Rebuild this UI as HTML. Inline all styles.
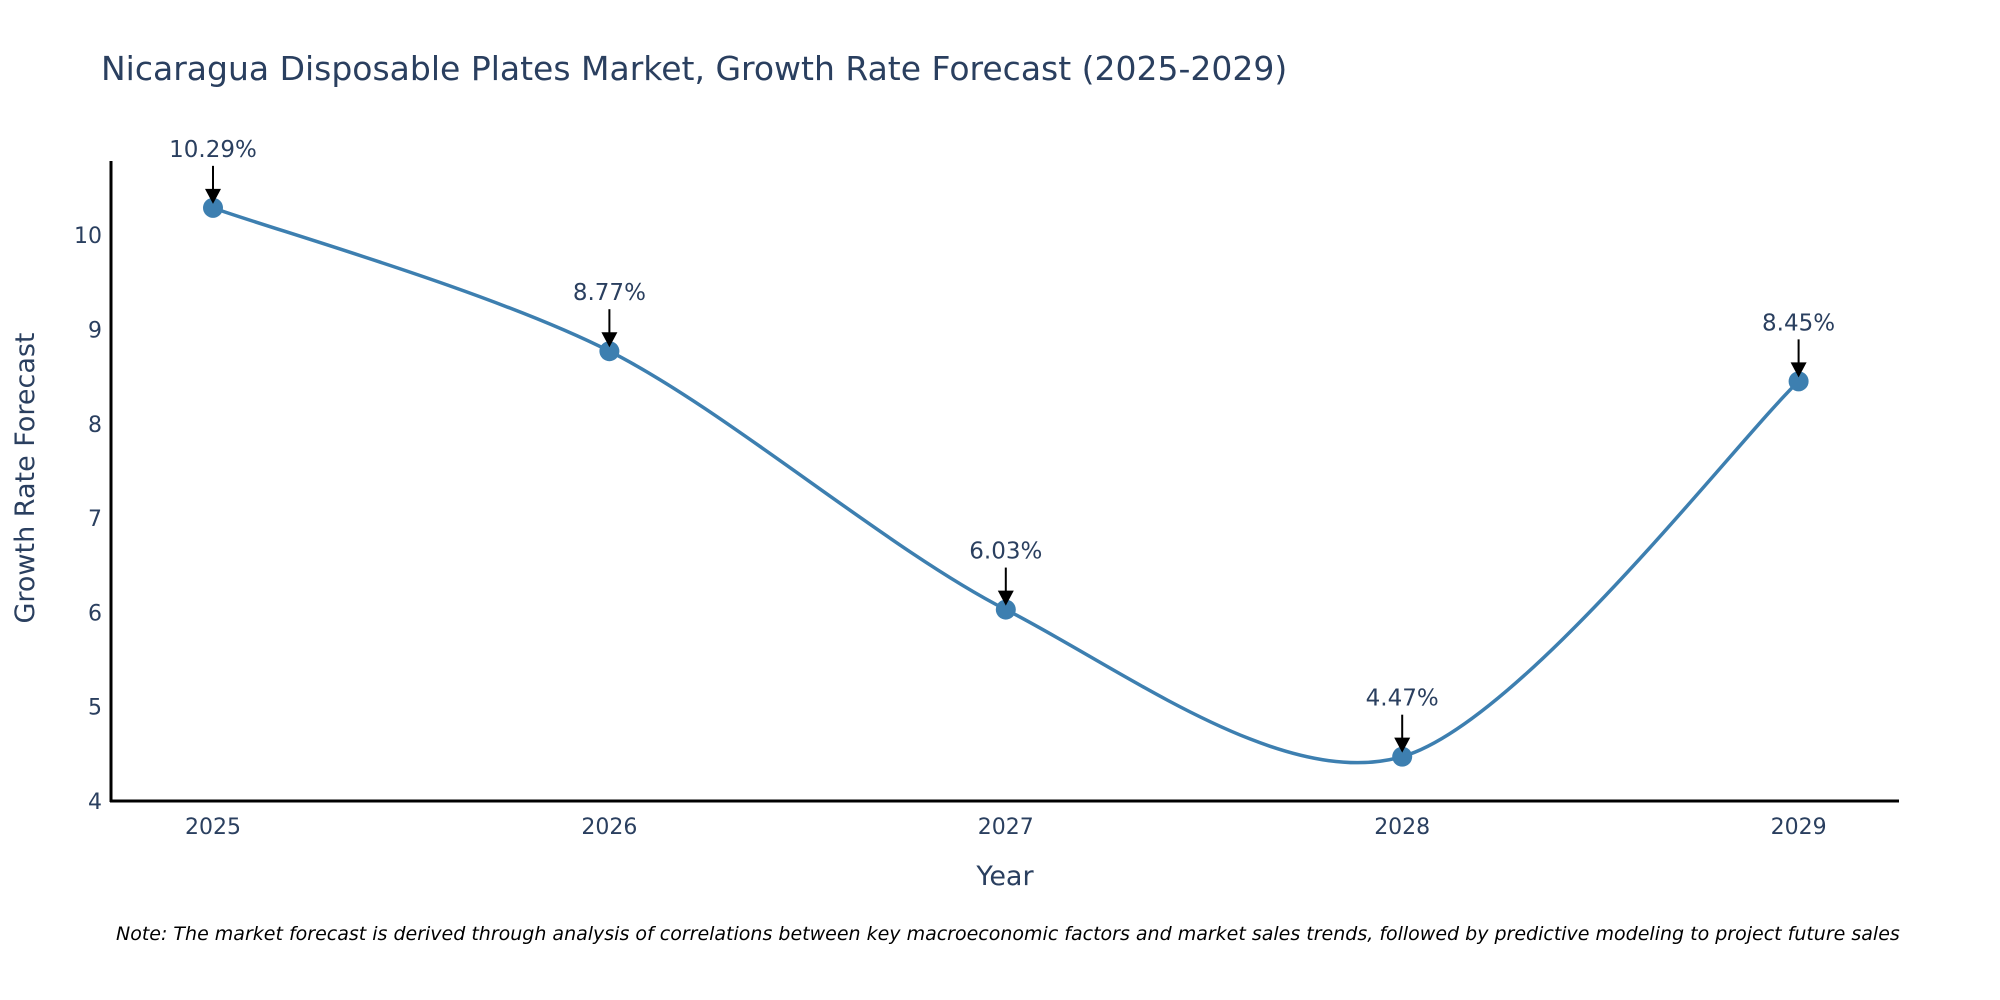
<!DOCTYPE html>
<html><head><meta charset="utf-8"><style>
html,body{margin:0;padding:0;background:#fff;}
svg{display:block;font-family:"DejaVu Sans","Liberation Sans",sans-serif;}
</style></head><body>
<svg id="chart" width="2000" height="1000" viewBox="0 0 2000 1000">
<text x="101" y="80" font-size="33" fill="#2a3f5f">Nicaragua Disposable Plates Market, Growth Rate Forecast (2025-2029)</text>
<g id="yticks"></g>
<g id="xticks"></g>
<line x1="111" y1="161" x2="111" y2="802" stroke="#000" stroke-width="3"/>
<line x1="110" y1="801" x2="1899" y2="801" stroke="#000" stroke-width="3"/>
<g id="series"></g>
<g id="annots"></g>
<text transform="translate(34,478) rotate(-90)" text-anchor="middle" font-size="27" fill="#2a3f5f">Growth Rate Forecast</text>
<text x="1005" y="885" text-anchor="middle" font-size="27" fill="#2a3f5f">Year</text>
<text x="116" y="940" font-size="19" font-style="italic" fill="#000">Note: The market forecast is derived through analysis of correlations between key macroeconomic factors and market sales trends, followed by predictive modeling to project future sales</text>
</svg>
<script>
const years = [2025, 2026, 2027, 2028, 2029];
const values = [10.29, 8.77, 6.03, 4.47, 8.45];
const labels = ["10.29%", "8.77%", "6.03%", "4.47%", "8.45%"];
const yTicks = [4, 5, 6, 7, 8, 9, 10];

const NS = "http://www.w3.org/2000/svg";
function xs(v){ return 213 + (v - 2025) * 396.4; }
function ys(v){ return 801 - (v - 4) * 94.3; }
function mk(tag, attrs, parent){
  const e = document.createElementNS(NS, tag);
  for (const k in attrs) e.setAttribute(k, attrs[k]);
  parent.appendChild(e); return e;
}
const yg = document.getElementById('yticks');
yTicks.forEach(t => {
  const e = mk('text', {x: 102, y: ys(t) + 8, 'text-anchor': 'end', 'font-size': 22, fill: '#2a3f5f'}, yg);
  
  
  e.textContent = t;
});
const xg = document.getElementById('xticks');
years.forEach(y => {
  const e = mk('text', {x: xs(y), y: 834, 'text-anchor': 'middle', 'font-size': 22, fill: '#2a3f5f'}, xg);
  
  
  e.textContent = y;
});
const pts = years.map((y, i) => [xs(y), ys(values[i])]);
let d = `M${pts[0][0]},${pts[0][1]}`;
for (let i = 0; i < pts.length - 1; i++) {
  const p0 = pts[i - 1] || pts[i], p1 = pts[i], p2 = pts[i + 1], p3 = pts[i + 2] || pts[i + 1];
  const t = 0.15;
  const c1 = [p1[0] + (p2[0] - p0[0]) * t, p1[1] + (p2[1] - p0[1]) * t];
  const c2 = [p2[0] - (p3[0] - p1[0]) * t, p2[1] - (p3[1] - p1[1]) * t];
  d += ` C${c1[0]},${c1[1]} ${c2[0]},${c2[1]} ${p2[0]},${p2[1]}`;
}
const sg = document.getElementById('series');
const line = mk('path', {d: d, fill: 'none', stroke: '#3d7fb0', 'stroke-width': 3.5}, sg);


pts.forEach(p => {
  const c = mk('circle', {cx: p[0], cy: p[1], r: 10, fill: '#3d7fb0'}, sg);
  
  
});
const ag = document.getElementById('annots');
pts.forEach((p, i) => {
  const l = mk('line', {x1: p[0], y1: p[1] - 42, x2: p[0], y2: p[1] - 16, stroke: '#000', 'stroke-width': 2}, ag);
  
  
  const h = mk('polygon', {points: `${p[0]-8},${p[1]-19} ${p[0]+8},${p[1]-19} ${p[0]},${p[1]-4}`, fill: '#000'}, ag);
  
  
  const t = mk('text', {x: p[0], y: p[1] - 51, 'text-anchor': 'middle', 'font-size': 23, fill: '#2a3f5f'}, ag);
  
  
  t.textContent = labels[i];
});
</script>
</body></html>
